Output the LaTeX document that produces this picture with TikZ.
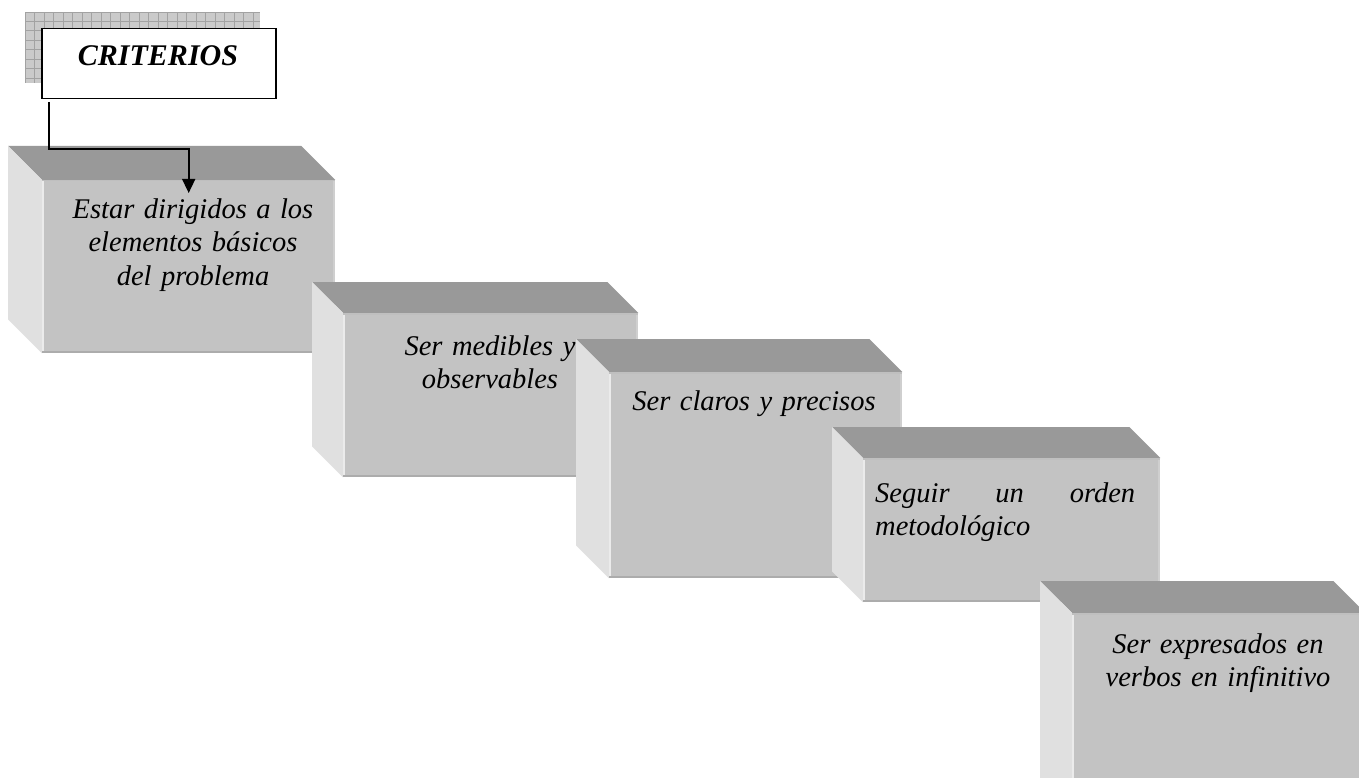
\documentclass[tikz,border=0pt]{standalone}
\usepackage{fontspec}
\setmainfont{Liberation Serif}
\usetikzlibrary{calc,arrows.meta}
\definecolor{frontc}{HTML}{C3C3C3}
\definecolor{topc}{HTML}{999999}
\definecolor{sidec}{HTML}{E0E0E0}
\definecolor{gridfill}{HTML}{CACACA}
\definecolor{gridline}{HTML}{A2A2A2}
\tikzset{
  front/.style={draw=none, fill=frontc, inner sep=0pt, anchor=north west},
  txt/.style={inner sep=0pt, anchor=north, text width=330pt, align=center,
    font=\fontsize{28.5}{33.5}\selectfont\itshape},
  conn/.style={line width=1.6pt, -{Triangle[length=14pt,width=13pt]}},
  crit/.style={draw, line width=1.5pt, fill=white, inner sep=0pt, anchor=north west,
    minimum width=234pt, minimum height=70pt},
}
% box: #1 name, #2 x, #3 y, #4 width, #5 height, #6 depth
\newcommand{\cubebox}[6]{%
  \node[front, minimum width=#4pt, minimum height=#5pt] (#1) at (#2,#3) {};
  \fill[topc] (#1.north west) -- (#1.north east) -- ++(-#6,-#6) -- ($(#1.north west)+(-#6,-#6)$) -- cycle;
  \fill[sidec] (#1.north west) -- ++(-#6,-#6) -- ($(#1.south west)+(-#6,-#6)$) -- (#1.south west) -- cycle;
  \draw[white!92!black, line width=2pt] ([xshift=1pt]#1.north west) -- ([xshift=1pt]#1.south west);
  \draw[frontc!80!white, line width=2pt] ([xshift=-1pt]#1.north east) -- ([xshift=-1pt]#1.south east);
  \draw[frontc!88!black, line width=2pt] ([yshift=1pt]#1.south west) -- ([yshift=1pt]#1.south east);
  \draw[frontc!90!topc, line width=1.5pt] ([yshift=-0.75pt]#1.north west) -- ([yshift=-0.75pt]#1.north east);
}
\begin{document}
\begin{tikzpicture}[x=1pt,y=-1pt]
\useasboundingbox (0,0) rectangle (1359,778);
\clip (0,0) rectangle (1359,778);
% CRITERIOS with grid shadow
\fill[gridfill] (25,12) rectangle (260,83);
\draw[gridline, line width=1pt, step=9.5pt, shift={(25pt,-12pt)}] (0,0) grid (235,71);
\node[crit] (crit) at (41,28) {};
\node[inner sep=0pt, anchor=base, font=\fontsize{30}{34}\selectfont\bfseries\itshape] (critt) at (158,66) {CRITERIOS};
% boxes
\cubebox{f1}{42}{180}{293}{173}{34}
\node[txt] (t1) at (193,194.5) {\strut Estar dirigidos a los\\elementos básicos\\del problema};
\cubebox{f2}{343}{313}{295}{164}{31}
\node[txt] (t2) at (490,331.5) {\strut Ser medibles y\\observables};
\cubebox{f3}{609}{372}{293}{206}{33}
\node[txt] (t3) at (754,386.5) {\strut Ser claros y precisos};
\cubebox{f4}{863}{458}{297}{144}{31}
\node[txt, anchor=north west, text width=260pt, align=left] (t4) at (875,478.5) {\strut Seguir\hfill un\hfill orden\\metodológico};
\cubebox{f5}{1072}{613}{293}{200}{32}
\node[txt] (t5) at (1218,629.5) {\strut Ser expresados en\\verbos en infinitivo};
% connector
\coordinate (c1) at (49,102);
\draw[conn] (c1) |- ($(f1.north)+(0,-31)$) -- ($(f1.north)+(0,13)$);
\end{tikzpicture}
\end{document}
